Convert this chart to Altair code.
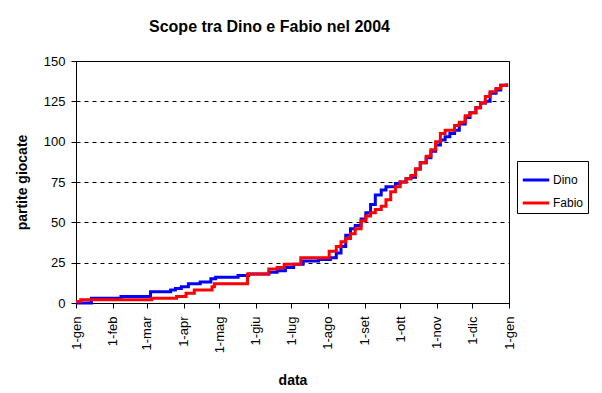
import altair as alt
import pandas as pd

dino_dates = ["2004/01/01", "2004/01/14", "2004/02/08", "2004/03/04", "2004/03/21", "2004/03/25",
              "2004/03/30", "2004/04/05", "2004/04/15", "2004/04/24", "2004/04/28", "2004/05/17",
              "2004/05/26", "2004/06/12", "2004/06/19", "2004/06/26", "2004/07/03", "2004/07/11",
              "2004/07/24", "2004/08/03", "2004/08/08", "2004/08/12", "2004/08/16", "2004/08/20",
              "2004/08/24", "2004/08/29", "2004/09/02", "2004/09/06", "2004/09/10", "2004/09/15",
              "2004/09/19", "2004/09/27", "2004/10/01", "2004/10/06", "2004/10/10", "2004/10/14",
              "2004/10/18", "2004/10/23", "2004/10/27", "2004/10/31", "2004/11/04", "2004/11/08",
              "2004/11/12", "2004/11/16", "2004/11/20", "2004/11/25", "2004/11/29", "2004/12/04",
              "2004/12/08", "2004/12/12", "2004/12/16", "2004/12/21", "2004/12/25", "2004/12/30"]
dino_values = [0, 3, 4, 7, 8, 9,
               10, 12, 13, 15, 16, 17,
               18, 19, 20, 22, 24, 26,
               27, 28, 31, 35, 42, 46,
               48, 52, 56, 61, 67, 70,
               72, 74, 75, 77, 78, 83,
               87, 90, 94, 98, 101, 103,
               105, 107, 111, 115, 118, 121,
               124, 125, 130, 132, 135, 136]

fabio_dates = ["2004/01/01", "2004/01/05", "2004/03/05", "2004/03/26", "2004/04/03", "2004/04/10",
               "2004/04/25", "2004/04/27", "2004/05/25", "2004/06/12", "2004/06/19", "2004/06/25",
               "2004/07/09", "2004/08/02", "2004/08/08", "2004/08/12", "2004/08/16", "2004/08/20",
               "2004/08/24", "2004/08/29", "2004/09/02", "2004/09/06", "2004/09/10", "2004/09/15",
               "2004/09/19", "2004/09/23", "2004/09/27", "2004/10/01", "2004/10/06", "2004/10/10",
               "2004/10/14", "2004/10/18", "2004/10/23", "2004/10/27", "2004/10/31", "2004/11/04",
               "2004/11/08", "2004/11/16", "2004/11/20", "2004/11/25", "2004/11/29", "2004/12/04",
               "2004/12/08", "2004/12/12", "2004/12/16", "2004/12/21", "2004/12/25", "2004/12/30"]
fabio_values = [1, 2, 3, 4, 6, 8,
                10, 12, 18, 21, 22, 24,
                28, 32, 35, 38, 40, 43,
                46, 51, 54, 56, 58, 60,
                64, 69, 72, 75, 77, 79,
                83, 87, 91, 95, 100, 105,
                107, 110, 112, 116, 118, 121,
                124, 128, 131, 133, 135, 136]

month_names = ["gen", "feb", "mar", "apr", "mag", "giu", "lug", "ago", "set", "ott", "nov", "dic"]
y_ticks = [0, 25, 50, 75, 100, 125, 150]

df = pd.concat([
    pd.DataFrame({"data": dino_dates, "partite": dino_values, "giocatore": "Dino"}),
    pd.DataFrame({"data": fabio_dates, "partite": fabio_values, "giocatore": "Fabio"}),
])

FONT = "Liberation Sans"
month_arr = "[" + ",".join("'" + m + "'" for m in month_names) + "]"

tick_vals = [alt.DateTime(year=2004, month=m, date=1) for m in range(1, 13)] + [alt.DateTime(year=2005, month=1, date=1)]

chart = alt.Chart(df).mark_line(interpolate="step-after", strokeWidth=3).encode(
    x=alt.X("data:T", title="data",
            scale=alt.Scale(domain=[alt.DateTime(year=2004, month=1, date=1),
                                    alt.DateTime(year=2005, month=1, date=1)], nice=False),
            axis=alt.Axis(values=tick_vals, labelAngle=270,
                          labelExpr="'1-' + " + month_arr + "[month(datum.value)]",
                          grid=False, domainColor="black", tickColor="black", tickSize=5,
                          labelFont=FONT, labelFontSize=13, labelColor="black", labelPadding=8,
                          labelOverlap=False, labelBound=False, labelFlush=False,
                          titleFont=FONT, titleFontSize=14, titleFontWeight="bold",
                          titleColor="black", titlePadding=21)),
    y=alt.Y("partite:Q", title="partite giocate",
            scale=alt.Scale(domain=[0, 150], nice=False),
            axis=alt.Axis(values=y_ticks, grid=True, gridColor="black", gridDash=[4, 4],
                          gridWidth=1, domainColor="black", tickColor="black", tickSize=5,
                          labelFont=FONT, labelFontSize=13, labelColor="black", labelPadding=6,
                          titleFont=FONT, titleFontSize=14, titleFontWeight="bold",
                          titleColor="black", titlePadding=14)),
    color=alt.Color("giocatore:N",
                    scale=alt.Scale(domain=["Dino", "Fabio"], range=["#0000FF", "#FF0000"]),
                    legend=alt.Legend(title=None, orient="none", legendX=441, legendY=100,
                                      symbolType="stroke", symbolStrokeWidth=3, symbolSize=700,
                                      strokeColor="black", padding=4, rowPadding=2,
                                      labelFont=FONT, labelFontSize=12, labelColor="black",
                                      labelOffset=2, fillColor="white")),
).properties(
    width=433, height=242,
    padding={"left": 7, "top": 11, "right": 5, "bottom": 5},
    title=alt.TitleParams("Scope tra Dino e Fabio nel 2004", font=FONT, fontSize=16,
                          fontWeight="bold", color="black", dx=-23, offset=20),
).configure_view(stroke="black", strokeWidth=1)

chart.save("out.html", embed_options={"renderer": "svg", "actions": False})
